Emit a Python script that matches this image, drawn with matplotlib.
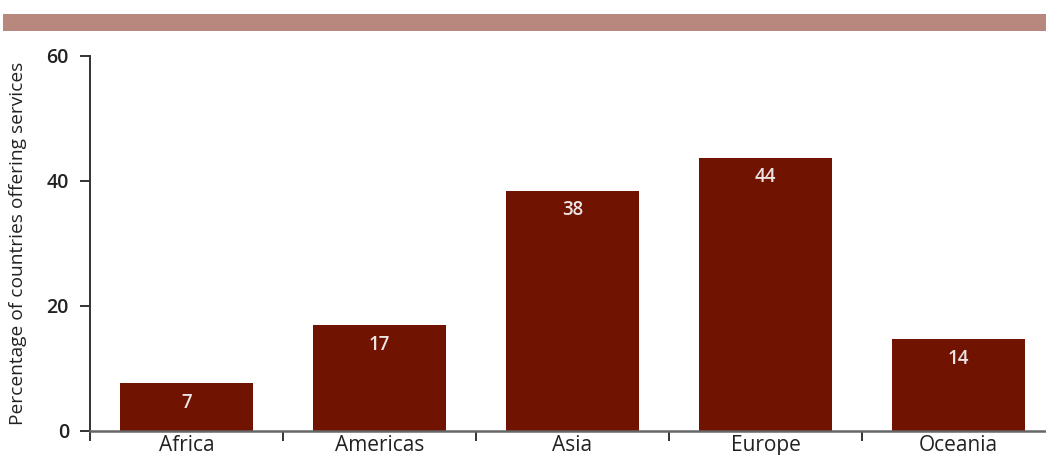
import matplotlib
matplotlib.use("Agg")
import matplotlib.pyplot as plt
from matplotlib.patches import Rectangle
import numpy as np

categories = ["Africa", "Americas", "Asia", "Europe", "Oceania"]
values = [7.6, 16.9, 38.4, 43.7, 14.6]
value_labels = ["7", "17", "38", "44", "14"]
yticks = [0, 20, 40, 60]
ylabel = "Percentage of countries offering services"

plt.rcParams['font.family'] = ['Open Sans', 'DejaVu Sans']

W, H = 1046, 455
fig = plt.figure(figsize=(W / 100, H / 100), dpi=100)

# top decorative band
fig.patches.append(Rectangle((3 / W, 1 - 31 / H), 1 - 3 / W, 17 / H,
                             transform=fig.transFigure, facecolor='#b8877d',
                             edgecolor='none'))

left, bottom = 90 / W, (H - 430.7) / H
ax = fig.add_axes([left, bottom, 1 - left, 375 / H])

x = np.arange(len(categories))
bar_color = '#701300'
ax.bar(x, values, width=0.69, color=bar_color, zorder=2)
for xi, v, lab in zip(x, values, value_labels):
    ax.annotate(lab, (xi, v), xytext=(0, -7), textcoords='offset points',
                ha='center', va='top', color='#ece4e4', fontsize=13.5,
                fontweight='semibold')

ax.set_xlim(-0.5, 4.5 - 9 / 193)
ax.set_ylim(0, 60)
ax.set_yticks(yticks)
ax.set_yticklabels([str(t) for t in yticks], fontsize=14, color='#222222',
                   fontweight='semibold')
ax.set_xticks(x)
ax.set_xticklabels(categories, fontsize=15, color='#222222')
ax.set_xticks(np.arange(-0.5, 4.0, 1.0), minor=True)

ax.tick_params(axis='y', direction='out', length=7.2, width=1.4, pad=8,
               color='#333333')
ax.tick_params(axis='x', which='major', length=0, pad=3)
ax.tick_params(axis='x', which='minor', direction='out', length=7.2,
               width=1.4, color='#333333')

for s in ['top', 'right']:
    ax.spines[s].set_visible(False)
ax.spines['left'].set_color('#333333')
ax.spines['left'].set_linewidth(1.4)
ax.spines['bottom'].set_color('#666666')
ax.spines['bottom'].set_linewidth(1.8)
ax.spines['bottom'].set_zorder(3)

fig.text(18 / W, 1 - 243 / H, ylabel, rotation=90, ha='center', va='center',
         fontsize=13.8, color='#222222')

fig.savefig("out.png", dpi=100)
